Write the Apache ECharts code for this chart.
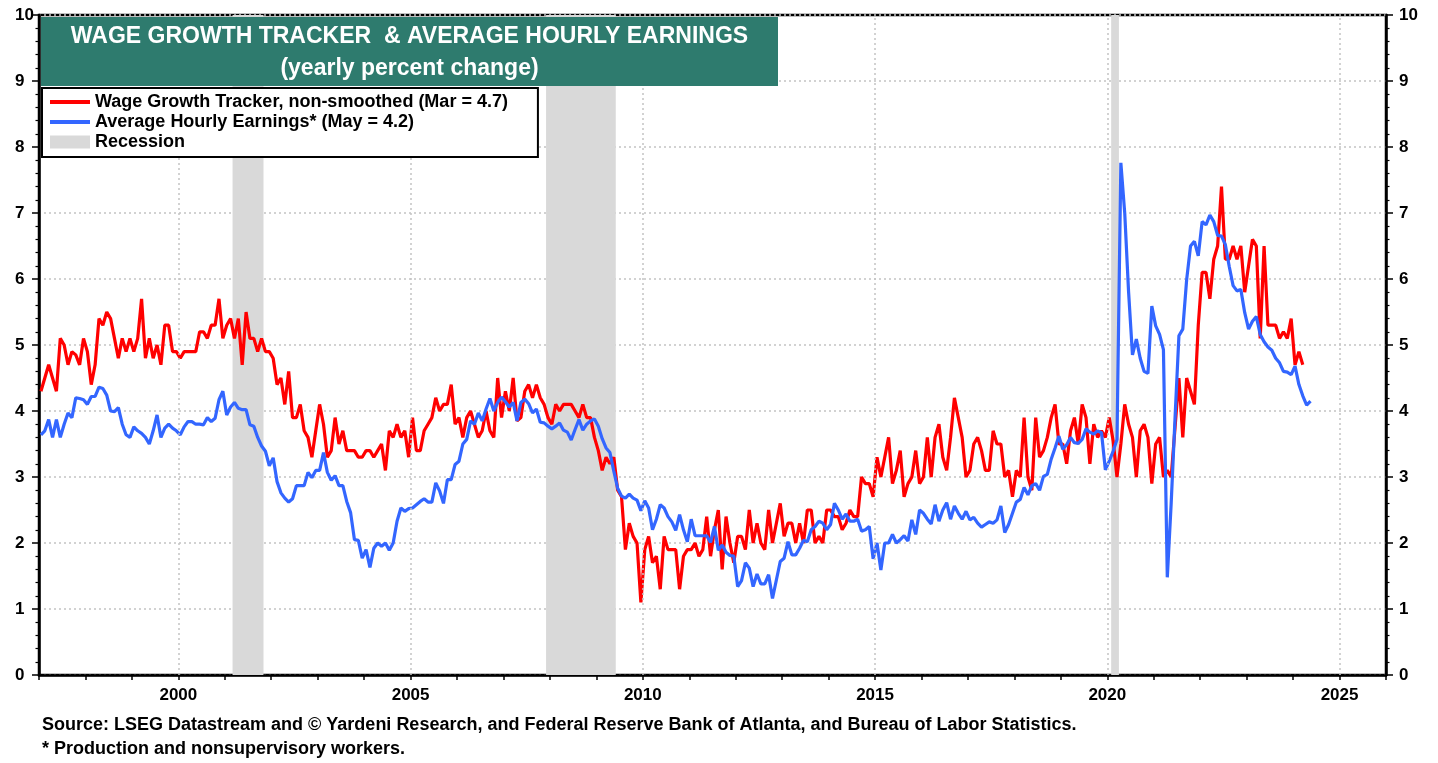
<!DOCTYPE html>
<html><head><meta charset="utf-8">
<script src="https://cdn.jsdelivr.net/npm/echarts@6/dist/echarts.min.js"></script>
<style>html,body{margin:0;padding:0;background:#fff}#c{width:1438px;height:763px}</style>
</head><body><div id="c"></div>
<script>
// Monthly data, first value = Jan 1997
const startYear = 1997;
const wageGrowthTracker = [
  4.3, 4.5, 4.7, 4.5, 4.3, 5.1, 5.0, 4.7, 4.9, 4.85, 4.7, 5.1,   // 1997
  4.9, 4.4, 4.7, 5.4, 5.3, 5.5, 5.4, 5.1, 4.8, 5.1, 4.9, 5.1,    // 1998
  4.9, 5.1, 5.7, 4.8, 5.1, 4.8, 5.0, 4.7, 5.3, 5.3, 4.9, 4.9,    // 1999
  4.8, 4.9, 4.9, 4.9, 4.9, 5.2, 5.2, 5.1, 5.3, 5.3, 5.7, 5.1,    // 2000
  5.3, 5.4, 5.1, 5.4, 4.7, 5.5, 5.1, 5.1, 4.9, 5.1, 4.9, 4.9,    // 2001
  4.8, 4.4, 4.5, 4.1, 4.6, 3.9, 3.9, 4.1, 3.7, 3.6, 3.3, 3.7,    // 2002
  4.1, 3.8, 3.3, 3.4, 3.9, 3.5, 3.7, 3.4, 3.4, 3.4, 3.3, 3.3,    // 2003
  3.4, 3.4, 3.3, 3.4, 3.5, 3.1, 3.7, 3.6, 3.8, 3.6, 3.7, 3.3,    // 2004
  3.9, 3.4, 3.4, 3.7, 3.8, 3.9, 4.2, 4.0, 4.1, 4.1, 4.4, 3.8,    // 2005
  3.9, 3.6, 3.9, 4.0, 3.8, 3.6, 3.7, 4.0, 3.7, 3.6, 4.5, 3.9,    // 2006
  4.3, 4.0, 4.5, 3.85, 3.9, 4.3, 4.4, 4.2, 4.4, 4.2, 4.1, 3.9,   // 2007
  3.8, 4.1, 4.0, 4.1, 4.1, 4.1, 4.0, 3.9, 4.1, 3.9, 3.9, 3.6,    // 2008
  3.4, 3.1, 3.3, 3.2, 3.3, 2.8, 2.7, 1.9, 2.3, 2.1, 2.0, 1.1,    // 2009
  1.9, 2.1, 1.7, 1.8, 1.3, 2.1, 1.9, 1.9, 1.9, 1.3, 1.8, 1.9,    // 2010
  1.9, 2.0, 1.8, 1.9, 2.4, 1.8, 2.2, 2.5, 1.6, 2.4, 2.0, 1.7,    // 2011
  2.1, 2.1, 1.9, 2.5, 2.0, 2.3, 2.0, 1.9, 2.5, 2.0, 2.3, 2.6,    // 2012
  2.1, 2.3, 2.3, 2.0, 2.3, 2.0, 2.5, 2.5, 2.0, 2.1, 2.0, 2.5,    // 2013
  2.5, 2.4, 2.4, 2.2, 2.3, 2.5, 2.4, 2.4, 3.0, 2.9, 2.9, 2.7,    // 2014
  3.3, 3.0, 3.3, 3.6, 2.9, 3.1, 3.4, 2.7, 2.9, 3.0, 3.4, 2.9,    // 2015
  3.0, 3.6, 3.0, 3.6, 3.8, 3.3, 3.1, 3.6, 4.2, 3.9, 3.6, 3.0,    // 2016
  3.1, 3.5, 3.6, 3.4, 3.1, 3.1, 3.7, 3.5, 3.5, 3.0, 3.1, 2.7,    // 2017
  3.1, 3.0, 3.9, 3.0, 2.8, 3.9, 3.3, 3.4, 3.6, 3.9, 4.1, 3.5,    // 2018
  3.5, 3.2, 3.7, 3.9, 3.5, 4.1, 3.9, 3.2, 3.8, 3.6, 3.7, 3.6,    // 2019
  3.9, 3.55, 3.0, 3.5, 4.1, 3.8, 3.6, 3.0, 3.7, 3.8, 3.6, 2.9,   // 2020
  3.5, 3.6, 3.0, 3.1, 3.0, 3.75, 4.5, 3.6, 4.5, 4.3, 4.1, 5.3,   // 2021
  6.1, 6.1, 5.7, 6.3, 6.5, 7.4, 6.3, 6.3, 6.5, 6.3, 6.5, 5.8,    // 2022
  6.2, 6.6, 6.5, 5.1, 6.5, 5.3, 5.3, 5.3, 5.1, 5.2, 5.1, 5.4,    // 2023
  4.7, 4.9, 4.7                                                  // 2024
];
const avgHourlyEarnings = [
  3.64, 3.7, 3.87, 3.6, 3.87, 3.6, 3.8, 3.97, 3.9, 4.2, 4.19, 4.17,      // 1997
  4.1, 4.22, 4.22, 4.36, 4.34, 4.24, 4.0, 3.99, 4.05, 3.8, 3.64, 3.6,    // 1998
  3.76, 3.7, 3.66, 3.6, 3.5, 3.7, 3.94, 3.6, 3.74, 3.8, 3.74, 3.7,       // 1999
  3.64, 3.76, 3.84, 3.84, 3.8, 3.8, 3.79, 3.9, 3.84, 3.89, 4.17, 4.3,    // 2000
  3.94, 4.06, 4.13, 4.04, 4.02, 4.02, 3.79, 3.77, 3.6, 3.47, 3.39, 3.17, // 2001
  3.29, 2.93, 2.76, 2.68, 2.62, 2.67, 2.87, 2.87, 2.87, 3.07, 2.99, 3.1, // 2002
  3.1, 3.37, 3.07, 2.95, 3.02, 2.87, 2.87, 2.63, 2.46, 2.05, 2.04, 1.77, // 2003
  1.9, 1.63, 1.92, 2.0, 1.95, 2.0, 1.89, 2.0, 2.33, 2.53, 2.48, 2.52,    // 2004
  2.53, 2.58, 2.63, 2.67, 2.62, 2.62, 2.91, 2.79, 2.6, 2.96, 2.96, 3.19, // 2005
  3.24, 3.5, 3.57, 3.85, 3.8, 3.97, 3.85, 4.03, 4.19, 4.0, 4.13, 4.21,   // 2006
  4.14, 4.06, 4.13, 3.85, 4.13, 4.18, 4.11, 3.97, 4.03, 3.83, 3.82, 3.77,// 2007
  3.73, 3.77, 3.82, 3.71, 3.68, 3.56, 3.72, 3.87, 3.71, 3.8, 3.85, 3.88, // 2008
  3.77, 3.58, 3.44, 3.37, 3.09, 2.83, 2.71, 2.68, 2.74, 2.68, 2.65, 2.49,// 2009
  2.64, 2.53, 2.2, 2.36, 2.58, 2.53, 2.4, 2.32, 2.19, 2.43, 2.2, 2.02,   // 2010
  2.36, 2.11, 2.11, 2.11, 2.11, 2.01, 2.25, 1.89, 1.97, 1.86, 1.81, 1.8, // 2011
  1.34, 1.43, 1.7, 1.62, 1.34, 1.53, 1.38, 1.38, 1.52, 1.16, 1.44, 1.72, // 2012
  1.77, 2.02, 1.82, 1.82, 1.92, 2.04, 2.02, 2.2, 2.25, 2.33, 2.3, 2.2,   // 2013
  2.28, 2.6, 2.5, 2.36, 2.44, 2.33, 2.33, 2.36, 2.18, 2.2, 2.25, 1.76,   // 2014
  2.0, 1.59, 2.0, 2.0, 2.13, 2.0, 2.05, 2.11, 2.03, 2.35, 2.13, 2.5,     // 2015
  2.45, 2.36, 2.29, 2.58, 2.33, 2.5, 2.61, 2.36, 2.56, 2.45, 2.36, 2.48, // 2016
  2.35, 2.39, 2.3, 2.24, 2.28, 2.32, 2.3, 2.35, 2.56, 2.16, 2.28, 2.45,  // 2017
  2.62, 2.66, 2.84, 2.73, 2.87, 2.9, 2.8, 3.01, 3.04, 3.27, 3.44, 3.62,  // 2018
  3.42, 3.49, 3.6, 3.52, 3.51, 3.57, 3.73, 3.68, 3.65, 3.7, 3.67, 3.11,  // 2019
  3.24, 3.39, 3.57, 7.76, 7.0, 5.8, 4.85, 5.09, 4.8, 4.6, 4.57, 5.59,    // 2020
  5.29, 5.16, 4.93, 1.48, 2.6, 3.9, 5.14, 5.24, 5.99, 6.5, 6.57, 6.35,   // 2021
  6.87, 6.82, 6.97, 6.87, 6.66, 6.65, 6.52, 6.19, 5.9, 5.82, 5.84, 5.49, // 2022
  5.24, 5.36, 5.43, 5.16, 5.05, 4.97, 4.92, 4.8, 4.73, 4.6, 4.59, 4.55,  // 2023
  4.68, 4.4, 4.23, 4.09, 4.15                                            // 2024
];
const recessionStart = [2001.167, 2007.917, 2020.083];
const recessionEnd   = [2001.833, 2009.417, 2020.25];
const xLabelYears = [2000, 2005, 2010, 2015, 2020, 2025];
const yTicks = [0, 1, 2, 3, 4, 5, 6, 7, 8, 9, 10];

const names = {
  wgt: 'Wage Growth Tracker, non-smoothed (Mar = 4.7)',
  ahe: 'Average Hourly Earnings* (May = 4.2)',
  rec: 'Recession'
};
const FONT = '"Liberation Sans", Arial, Helvetica, sans-serif';
const toXY = arr => arr.map((v, i) => [startYear + (i + 0.5) / 12, v]);
const gridDot = { color: '#c4c4c4', width: 1.5, type: [2, 3] };
const lineIcon = 'path://M0,0h40v4h-40z';

const chart = echarts.init(document.getElementById('c'), null, { renderer: 'canvas' });
const yAxisBase = {
  type: 'value', min: yTicks[0], max: yTicks[yTicks.length - 1], interval: 1,
  axisLine: { show: true, lineStyle: { color: '#000', width: 2.5 } },
  axisTick: { show: true, length: 7, lineStyle: { color: '#000', width: 1.5 } },
  minorTick: { show: true, splitNumber: 5, length: 3.5, lineStyle: { color: '#000', width: 1.2 } },
  axisLabel: { color: '#000', fontFamily: FONT, fontWeight: 'bold', fontSize: 17, align: 'left' }
};
chart.setOption({
  animation: false,
  backgroundColor: '#fff',
  grid: { left: 39, right: 52, top: 15, bottom: 88, show: true, borderColor: '#000', borderWidth: 2.5, backgroundColor: 'transparent' },
  xAxis: {
    type: 'value', min: 1997, max: 2026, interval: 1,
    axisLine: { show: true, onZero: false, lineStyle: { color: '#000', width: 2.5 } },
    axisTick: { show: true, length: 5, lineStyle: { color: '#000', width: 1.5 } },
    splitLine: { show: false },
    axisLabel: {
      color: '#000', fontFamily: FONT, fontWeight: 'bold', fontSize: 17, margin: 12,
      formatter: v => (xLabelYears.indexOf(v) >= 0 ? String(v) : '')
    }
  },
  yAxis: [
    Object.assign({}, yAxisBase, { position: 'left', axisLabel: Object.assign({}, yAxisBase.axisLabel, { margin: 24 }),
      splitLine: { show: true, lineStyle: gridDot } }),
    Object.assign({}, yAxisBase, { position: 'right', axisLabel: Object.assign({}, yAxisBase.axisLabel, { margin: 13 }),
      splitLine: { show: false } })
  ],
  legend: {
    left: 42, top: 88, orient: 'vertical', selectedMode: false,
    backgroundColor: '#fff', borderColor: '#000', borderWidth: 2,
    padding: [4, 30, 5, 8], itemGap: 0, itemWidth: 40, itemHeight: 13, symbolKeepAspect: true,
    textStyle: { color: '#000', fontFamily: FONT, fontWeight: 'bold', fontSize: 18, lineHeight: 20 },
    data: [
      { name: names.wgt, icon: lineIcon, itemStyle: { color: '#ff0000' } },
      { name: names.ahe, icon: lineIcon, itemStyle: { color: '#3366ff' } },
      { name: names.rec, icon: 'rect', itemStyle: { color: '#d9d9d9' } }
    ],
    z: 10
  },
  graphic: [
    { type: 'rect', z: 100, shape: { x: 41, y: 17, width: 737, height: 69 }, style: { fill: '#2e7b6e' } },
    { type: 'text', z: 101, x: 409.5, y: 37, style: { text: 'WAGE GROWTH TRACKER  & AVERAGE HOURLY EARNINGS', fill: '#fff',
      font: 'bold 23px ' + FONT, textAlign: 'center', textVerticalAlign: 'middle' } },
    { type: 'text', z: 101, x: 409.5, y: 69, style: { text: '(yearly percent change)', fill: '#fff',
      font: 'bold 23px ' + FONT, textAlign: 'center', textVerticalAlign: 'middle' } },
    { type: 'text', z: 101, x: 42, y: 725, style: { text: 'Source: LSEG Datastream and \u00A9 Yardeni Research, and Federal Reserve Bank of Atlanta, and Bureau of Labor Statistics.', fill: '#000',
      font: 'bold 18px ' + FONT, textAlign: 'left', textVerticalAlign: 'middle' } },
    { type: 'text', z: 101, x: 42, y: 749, style: { text: '* Production and nonsupervisory workers.', fill: '#000',
      font: 'bold 18px ' + FONT, textAlign: 'left', textVerticalAlign: 'middle' } }
  ],
  series: [
    {
      name: names.rec, type: 'line', z: 1, data: [], color: '#d9d9d9', silent: true,
      markArea: { silent: true, itemStyle: { color: '#d9d9d9' },
        data: recessionStart.map((s, i) => [{ xAxis: s }, { xAxis: recessionEnd[i] }]) },
      markLine: { silent: true, symbol: ['none', 'none'], label: { show: false }, lineStyle: gridDot,
        data: xLabelYears.map(y => ({ xAxis: y })) }
    },
    { name: names.wgt, type: 'line', z: 3, data: toXY(wageGrowthTracker), showSymbol: false, symbol: 'none',
      color: '#ff0000', lineStyle: { color: '#ff0000', width: 3.2 }, silent: true },
    { name: names.ahe, type: 'line', z: 4, data: toXY(avgHourlyEarnings), showSymbol: false, symbol: 'none',
      color: '#3366ff', lineStyle: { color: '#3366ff', width: 3.2 }, silent: true }
  ]
});
</script></body></html>
